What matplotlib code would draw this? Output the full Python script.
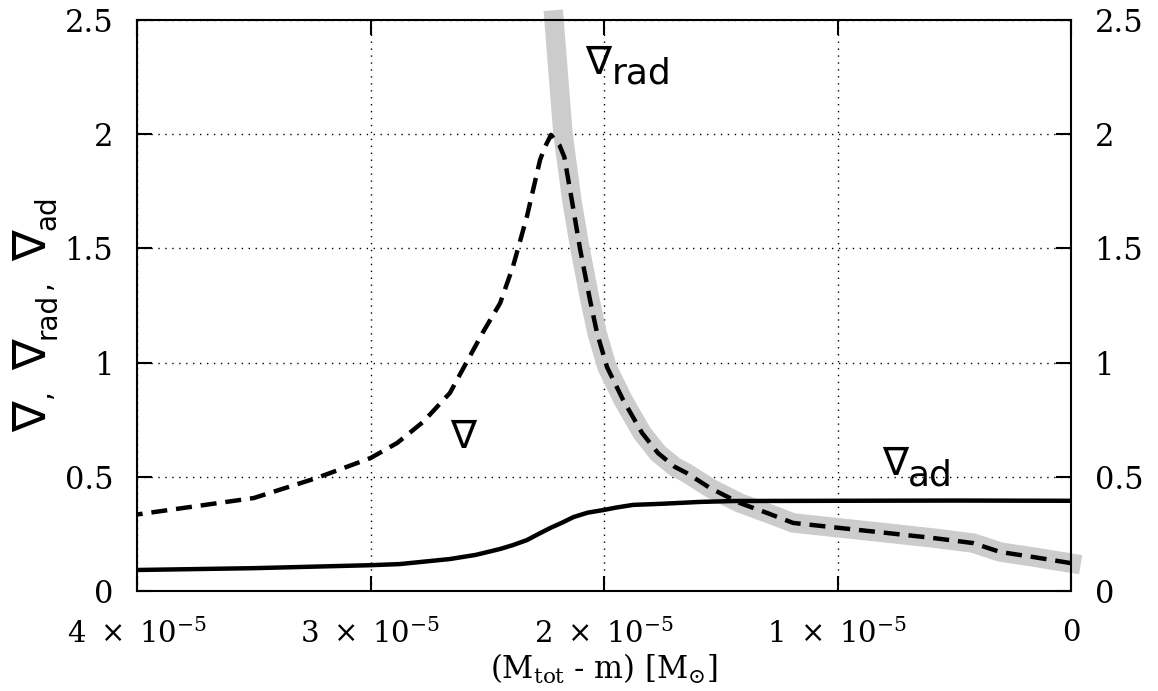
import matplotlib
matplotlib.use("Agg")
import matplotlib.pyplot as plt
from matplotlib.ticker import FixedLocator, FuncFormatter

plt.rcParams['mathtext.fontset'] = 'dejavuserif'

# mass coordinate (M_tot - m) in units of 1e-5 M_sun
mass_rad = [0.0, 0.163, 0.304, 0.42, 0.59, 0.788, 0.99, 1.19, 1.30, 1.418, 1.546,
            1.645, 1.696, 1.769, 1.837, 1.918, 1.987, 2.03, 2.06, 2.103, 2.138,
            2.176, 2.214]
grad_rad = [0.122, 0.149, 0.171, 0.21, 0.232, 0.254, 0.276, 0.298, 0.341, 0.385,
            0.451, 0.516, 0.543, 0.604, 0.692, 0.836, 0.98, 1.13, 1.274, 1.50,
            1.712, 2.005, 2.5]

mass_grad = [0.0, 0.163, 0.304, 0.42, 0.59, 0.788, 0.99, 1.19, 1.30, 1.418, 1.546,
             1.645, 1.696, 1.769, 1.837, 1.918, 1.987, 2.03, 2.06, 2.103, 2.138,
             2.17, 2.19, 2.227, 2.253, 2.274, 2.33, 2.39, 2.445, 2.52, 2.60, 2.66,
             2.775, 2.886, 3.0, 3.23, 3.5, 4.0]
grad = [0.122, 0.149, 0.171, 0.21, 0.232, 0.254, 0.276, 0.298, 0.341, 0.385,
        0.451, 0.516, 0.543, 0.604, 0.692, 0.836, 0.98, 1.13, 1.274, 1.50,
        1.712, 1.90, 1.95, 1.997, 1.944, 1.887, 1.64, 1.42, 1.26, 1.13, 0.98, 0.867,
        0.74, 0.648, 0.582, 0.495, 0.407, 0.335]

mass_ad = [0.0, 0.5, 1.0, 1.447, 1.59, 1.75, 1.876, 1.95, 2.0, 2.07, 2.13, 2.18,
           2.23, 2.28, 2.33, 2.39, 2.445, 2.55, 2.66, 2.874, 3.0, 3.5, 4.0]
grad_ad = [0.395, 0.396, 0.395, 0.394, 0.39, 0.382, 0.377, 0.365, 0.355, 0.343,
           0.324, 0.299, 0.276, 0.25, 0.223, 0.201, 0.184, 0.158, 0.14, 0.118,
           0.113, 0.10, 0.092]

scale = 1e-5
x_ticks = [0, 1, 2, 3, 4]
y_ticks = [0, 0.5, 1, 1.5, 2, 2.5]

fig = plt.figure(figsize=(11.58, 6.91), dpi=100)
ax = fig.add_axes([0.1183, 0.1447, 0.8066, 0.8264])

ax.plot([m * scale for m in mass_rad], grad_rad, color='#cccccc', lw=14,
        solid_capstyle='projecting', solid_joinstyle='miter', clip_on=False, zorder=2)
ax.plot([m * scale for m in mass_grad], grad, color='black', lw=3.2,
        dashes=(3.6, 2.0), zorder=3)
ax.plot([m * scale for m in mass_ad], grad_ad, color='black', lw=3.2, zorder=3)

ax.set_xlim(4 * scale, 0)
ax.set_ylim(0, 2.5)

ax.xaxis.set_major_locator(FixedLocator([t * scale for t in x_ticks]))
ax.yaxis.set_major_locator(FixedLocator(y_ticks))


def mass_fmt(v, pos):
    n = round(v / scale)
    if n == 0:
        return '0'
    return r'$%d\ \times\ 10^{-5}$' % n


ax.xaxis.set_major_formatter(FuncFormatter(mass_fmt))
ax.yaxis.set_major_formatter(FuncFormatter(lambda v, p: '%g' % v))

ax.grid(True, color='black', lw=1.0, linestyle=(0, (1, 4)))
ax.tick_params(direction='in', length=11, width=1.5, top=True, right=True,
               labelright=True, labelsize=22)
ax.tick_params(axis='y', which='both', pad=17)
ax.tick_params(axis='x', pad=20, labelsize=21)
for lab in ax.get_xticklabels() + ax.get_yticklabels():
    lab.set_family('DejaVu Serif')
for side in ax.spines.values():
    side.set_linewidth(1.5)

ax.set_xlabel(r'(M$_{\mathrm{tot}}$ - m) [M$_{\odot}$]', family='DejaVu Serif',
              fontsize=22, labelpad=2)


def nabla_text(x, y, pieces, rotation=0, transform=None):
    # pieces: (text, size, drop in points, gap before in points)
    prev = None
    prev_drop = 0
    for text, size, drop, gap in pieces:
        if prev is None:
            if rotation:
                prev = fig.text(x, y, text, fontsize=size, rotation=rotation,
                                ha='right', va='bottom',
                                transform=transform or fig.transFigure)
            else:
                prev = fig.text(x, y, text, fontsize=size, ha='left',
                                va='baseline', transform=transform or fig.transFigure)
        else:
            d = drop - prev_drop
            if rotation:
                xy, off, ha = (1, 1), (d, gap), 'right'
            else:
                xy, off, ha = (1, 0), (gap, -d), 'left'
            prev = ax.annotate(text, xy=xy, xycoords=prev, xytext=off,
                               textcoords='offset points', fontsize=size,
                               rotation=rotation, ha=ha, va='bottom',
                               annotation_clip=False)
        prev_drop = drop


nabla_text(2.08 * scale, 2.264, [('∇', 28, 0, 0), ('rad', 26, 6.5, 0)],
           transform=ax.transData)
nabla_text(2.66 * scale, 0.626, [('∇', 28, 0, 0)], transform=ax.transData)
nabla_text(0.809 * scale, 0.508, [('∇', 28, 0, 0), ('ad', 26, 6.5, 0)],
           transform=ax.transData)

# axis title built from pieces so the subscripts keep a large size
nabla_text(56 / 1158, (691 - 432) / 691,
           [('∇', 33, 0, 0), (',', 20, 0, 2), ('∇', 33, 0, 14), ('rad', 20, 4, 0),
            (',', 20, 0, 3), ('∇', 33, 0, 14), ('ad', 20, 4, 0)], rotation=90)

fig.savefig('out.png', dpi=100)
